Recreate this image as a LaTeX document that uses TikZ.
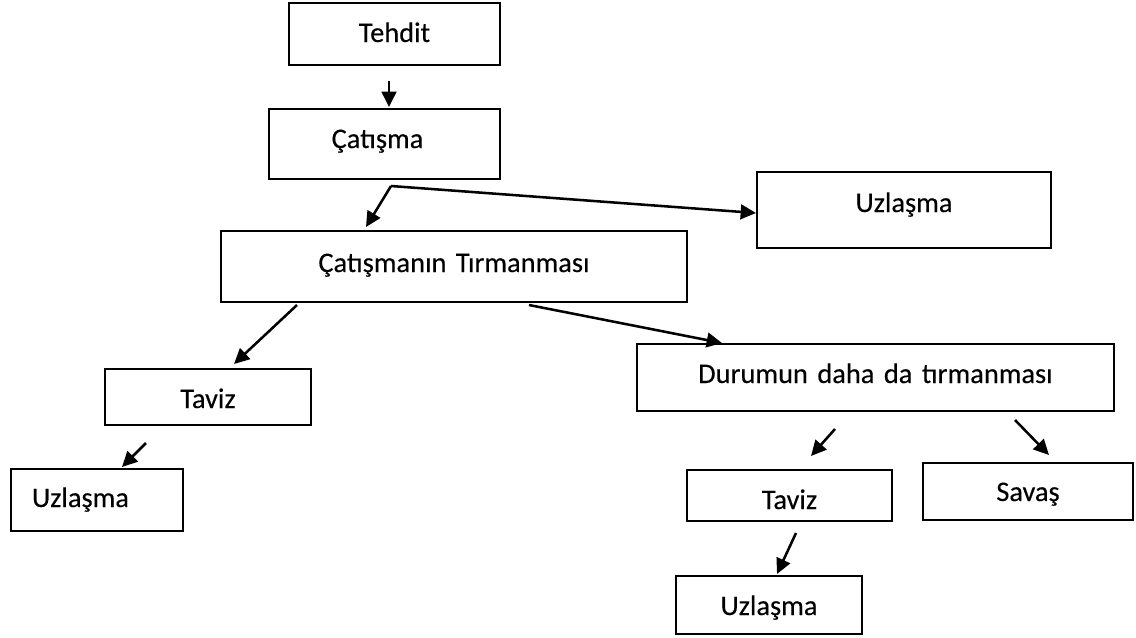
\documentclass[tikz,border=0pt]{standalone}
\usepackage{fontspec}
\setmainfont{Carlito}[UprightFeatures={FakeBold=0.25}]
\usetikzlibrary{arrows.meta}
\tikzset{
  box/.style={draw, line width=1.5pt, inner sep=0pt, align=center, anchor=base,
    font=\fontsize{21.3}{25}\selectfont},
  conn/.style={line width=1.9pt, -{Triangle[length=11.5pt,width=11pt]}}
}
\begin{document}
\begin{tikzpicture}[x=0.75pt,y=-0.75pt]
\fill[white] (0,0) rectangle (1136,637);
\useasboundingbox (0,0) rectangle (1136,637);
% boxes
\node[box, text width=158.25pt, text height=29.25pt, text depth=17.25pt] (tehdit) at (394.5,42) {Tehdit};
\node[box, text width=173.25pt, text height=29.25pt, text depth=23.25pt] (catisma) at (384.5,148) {\hspace*{-10.5pt}Çatışma};
\node[box, text width=349.5pt, text height=30.75pt, text depth=22.5pt] (tirman) at (454,272) {Çatışmanın Tırmanması};
\node[box, text width=220.5pt, text height=30pt, text depth=27pt] (uzlTR) at (904,212) {Uzlaşma};
\node[box, text width=357.75pt, text height=29.25pt, text depth=21pt] (durum) at (875.5,383) {Durumun daha da tırmanması};
\node[box, text width=154.5pt, text height=29.25pt, text depth=12.75pt] (tavizL) at (208,408) {Taviz};
\node[box, align=left, text width=129pt, text height=28.5pt, text depth=18pt] (uzlL) at (97,507) {\hspace*{15.75pt}Uzlaşma};
\node[box, text width=153.75pt, text height=29.25pt, text depth=9pt] (tavizR) at (789.5,509) {Taviz};
\node[box, text width=157.5pt, text height=28.5pt, text depth=14.25pt] (savas) at (1028,501) {Savaş};
\node[box, text width=139.5pt, text height=29.25pt, text depth=14.25pt] (uzlB) at (769,615) {Uzlaşma};
% connectors
\draw[conn] ([shift={(-5.5,15)}]tehdit.south) -- ([shift={(4.5,-1)}]catisma.north);
\coordinate (split) at ([shift={(6.5,6)}]catisma.south);
\draw[conn] (split) -- ([shift={(-88,-3)}]tirman.north);
\draw[conn] (split) -- ([shift={(0,3)}]uzlTR.west);
\draw[conn] ([shift={(77,2)}]tirman.south west) -- ([shift={(26,-4)}]tavizL.north);
\draw[conn] ([shift={(75,2)}]tirman.south) -- ([shift={(86,0)}]durum.north west);
\draw[conn] ([shift={(42,17)}]tavizL.south west) -- ([shift={(112,-1)}]uzlL.north west);
\draw[conn] ([shift={(-40.5,17)}]durum.south) -- ([shift={(21.5,-13)}]tavizR.north);
\draw[conn] ([shift={(-100,8)}]durum.south east) -- ([shift={(21,-7)}]savas.north);
\draw[conn] ([shift={(6.5,11)}]tavizR.south) -- ([shift={(8,-1)}]uzlB.north);
\end{tikzpicture}
\end{document}
